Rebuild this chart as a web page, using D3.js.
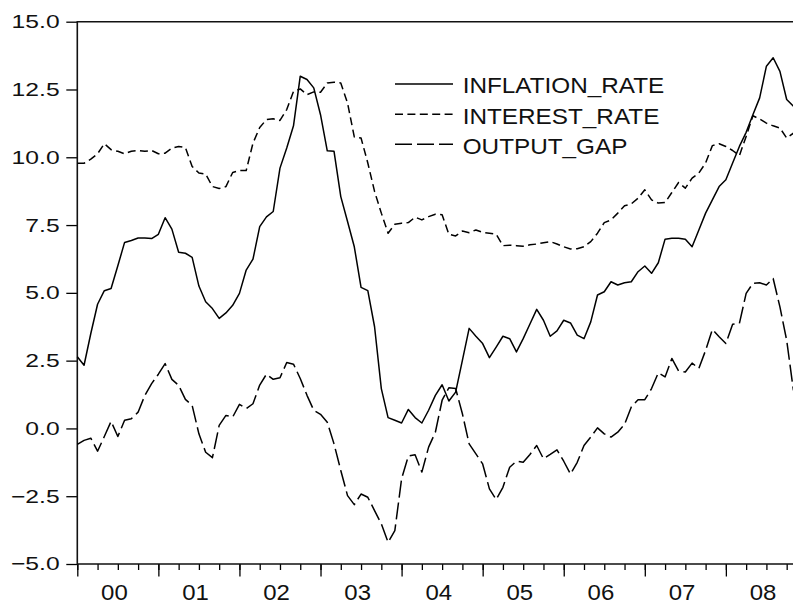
<!DOCTYPE html>
<html>
<head>
<meta charset="utf-8">
<script src="https://cdn.jsdelivr.net/npm/d3@7"></script>
<style>
  body { margin: 0; background: #fff; }
  svg { display: block; font-family: "Liberation Sans", Arial, sans-serif; }
</style>
</head>
<body>
<div id="chart"></div>
<script>
// monthly observations, 2000M01 .. 2008M11
const yearLabels = ['00', '01', '02', '03', '04', '05', '06', '07', '08'];
const yTicks = [-5, -2.5, 0, 2.5, 5, 7.5, 10, 12.5, 15];

const inflationRate = [
  2.64, 2.33, 3.5, 4.58, 5.08, 5.16, 6.0, 6.86, 6.93, 7.02, 7.02, 7.0,
  7.16, 7.77, 7.35, 6.5, 6.46, 6.31, 5.25, 4.67, 4.42, 4.06, 4.26, 4.54,
  4.98, 5.84, 6.24, 7.44, 7.8, 8.0, 9.6, 10.34, 11.16, 12.99, 12.87, 12.56,
  11.57, 10.24, 10.22, 8.55, 7.63, 6.7, 5.2, 5.08, 3.75, 1.47, 0.4, 0.3,
  0.2, 0.7, 0.4, 0.2, 0.67, 1.22, 1.61, 1.01, 1.34, 2.51, 3.69, 3.4,
  3.13, 2.61, 3.0, 3.4, 3.31, 2.82, 3.31, 3.85, 4.39, 3.99, 3.4, 3.6,
  3.99, 3.89, 3.44, 3.31, 3.93, 4.92, 5.04, 5.41, 5.29, 5.37, 5.41, 5.78,
  5.99, 5.72, 6.11, 6.98, 7.01, 7.01, 6.98, 6.7, 7.32, 7.94, 8.43, 8.92,
  9.17, 9.79, 10.4, 10.92, 11.57, 12.19, 13.36, 13.67, 13.17, 12.13, 11.88
];

const interestRate = [
  9.78, 9.78, 9.93, 10.13, 10.5, 10.28, 10.22, 10.13, 10.22, 10.25, 10.22, 10.25,
  10.13, 10.15, 10.34, 10.4, 10.36, 9.66, 9.42, 9.38, 8.92, 8.85, 8.92, 9.44,
  9.51, 9.51, 10.52, 11.1, 11.39, 11.42, 11.36, 11.76, 12.43, 12.52, 12.31, 12.41,
  12.4, 12.74, 12.77, 12.74, 12.0, 10.75, 10.71, 9.79, 8.74, 7.94, 7.2, 7.53,
  7.57, 7.59, 7.79, 7.69, 7.81, 7.9, 7.88, 7.16, 7.1, 7.28, 7.22, 7.32,
  7.23, 7.2, 7.16, 6.74, 6.76, 6.74, 6.72, 6.77, 6.8, 6.85, 6.89, 6.8,
  6.7, 6.62, 6.63, 6.7, 6.89, 7.2, 7.59, 7.69, 7.94, 8.21, 8.28, 8.49,
  8.8, 8.43, 8.31, 8.33, 8.7, 9.07, 8.86, 9.23, 9.42, 9.79, 10.43, 10.5,
  10.4, 10.25, 10.06, 10.77, 11.53, 11.41, 11.26, 11.16, 11.08, 10.71, 10.89
];

const outputGap = [
  -0.59, -0.44, -0.36, -0.84, -0.3, 0.26, -0.3, 0.3, 0.36, 0.6, 1.22, 1.65,
  2.0, 2.39, 1.81, 1.59, 1.07, 0.85, -0.2, -0.88, -1.08, 0.11, 0.48, 0.42,
  0.89, 0.73, 0.91, 1.6, 2.0, 1.81, 1.87, 2.43, 2.37, 1.84, 1.22, 0.67,
  0.52, 0.23, -0.57, -1.55, -2.48, -2.81, -2.42, -2.54, -3.03, -3.52, -4.2, -3.77,
  -1.86, -1.02, -0.97, -1.61, -0.69, -0.14, 1.04, 1.5, 1.47, 0.54, -0.57, -0.94,
  -1.31, -2.23, -2.62, -2.17, -1.43, -1.21, -1.25, -0.96, -0.63, -1.12, -0.96, -0.79,
  -1.21, -1.68, -1.25, -0.63, -0.32, 0.02, -0.2, -0.32, -0.14, 0.15, 0.79, 1.06,
  1.06, 1.47, 2.05, 1.9, 2.58, 2.12, 2.08, 2.41, 2.21, 2.88, 3.65, 3.38,
  3.13, 3.84, 3.87, 4.98, 5.35, 5.37, 5.29, 5.53, 4.48, 3.25, 1.4
];

const seriesNames = ['INFLATION_RATE', 'INTEREST_RATE', 'OUTPUT_GAP'];

const width = 793, height = 608;
const plotLeft = 77.3, plotTop = 21.7, plotBottom = 564;
const monthPx = 6.756;
const n = inflationRate.length;

const svg = d3.select('#chart').append('svg')
  .attr('width', width)
  .attr('height', height);

const x = d3.scaleLinear()
  .domain([0, n - 1])
  .range([plotLeft, plotLeft + (n - 1) * monthPx]);

const y = d3.scaleLinear()
  .domain([-5, 15])
  .range([plotBottom, plotTop]);

const series = [
  { name: seriesNames[0], values: inflationRate, dash: null },
  { name: seriesNames[1], values: interestRate, dash: '8,4.4' },
  { name: seriesNames[2], values: outputGap, dash: '17,5' }
];

// y axis
const yAxis = svg.append('g')
  .attr('transform', `translate(${plotLeft},0)`)
  .call(d3.axisLeft(y).tickValues(yTicks).tickSize(11).tickFormat(d3.format('.1f')));
yAxis.select('.domain').remove();
yAxis.selectAll('line').attr('stroke', '#000').attr('stroke-width', 1.3);
yAxis.selectAll('text')
  .attr('fill', '#111')
  .style('font-size', '18.7px')
  .attr('x', -17.7 / 1.32)
  .attr('dy', '0.32em')
  .attr('transform', 'scale(1.32,1)');

// x axis: quarterly minor ticks, yearly major ticks
const quarters = d3.range(0, n, 3);
const years = d3.range(0, n, 12);

const xMinor = svg.append('g')
  .attr('transform', `translate(0,${plotBottom})`)
  .call(d3.axisBottom(x).tickValues(quarters).tickSize(6).tickFormat(''));
xMinor.select('.domain').remove();

const xMajor = svg.append('g')
  .attr('transform', `translate(0,${plotBottom})`)
  .call(d3.axisBottom(x).tickValues(years).tickSize(12.5).tickFormat(''));
xMajor.select('.domain').remove();

svg.selectAll('.tick line').attr('stroke', '#000').attr('stroke-width', 1.3);

svg.append('g')
  .selectAll('g')
  .data(yearLabels)
  .join('g')
  .attr('transform', (d, i) => `translate(${x(i * 12 + 5.5)},600) scale(1.09,1)`)
  .append('text')
  .attr('text-anchor', 'middle')
  .attr('fill', '#111')
  .style('font-size', '22px')
  .text(d => d);

// frame: left, top, bottom
svg.append('path')
  .attr('d', `M${width},${plotTop}H${plotLeft}V${plotBottom}H${width}`)
  .attr('fill', 'none')
  .attr('stroke', '#111')
  .attr('stroke-width', 1.6);

// series lines
const line = d3.line()
  .x((d, i) => x(i))
  .y(d => y(d));

svg.append('g')
  .selectAll('path')
  .data(series)
  .join('path')
  .attr('d', d => line(d.values))
  .attr('fill', 'none')
  .attr('stroke', '#000')
  .attr('stroke-width', 1.5)
  .attr('stroke-dasharray', d => d.dash)
  .attr('stroke-linejoin', 'round');

// legend
const legend = svg.append('g')
  .selectAll('g')
  .data(series)
  .join('g')
  .attr('transform', (d, i) => `translate(395,${[84, 114.3, 144.3][i]})`);

legend.append('line')
  .attr('x1', 0)
  .attr('x2', 58)
  .attr('stroke', '#000')
  .attr('stroke-width', 1.5)
  .attr('stroke-dasharray', d => d.dash);

legend.append('g')
  .attr('transform', 'translate(67.7,9.3) scale(1.11,1)')
  .append('text')
  .attr('fill', '#111')
  .style('font-size', '21.9px')
  .text(d => d.name);
</script>
</body>
</html>
